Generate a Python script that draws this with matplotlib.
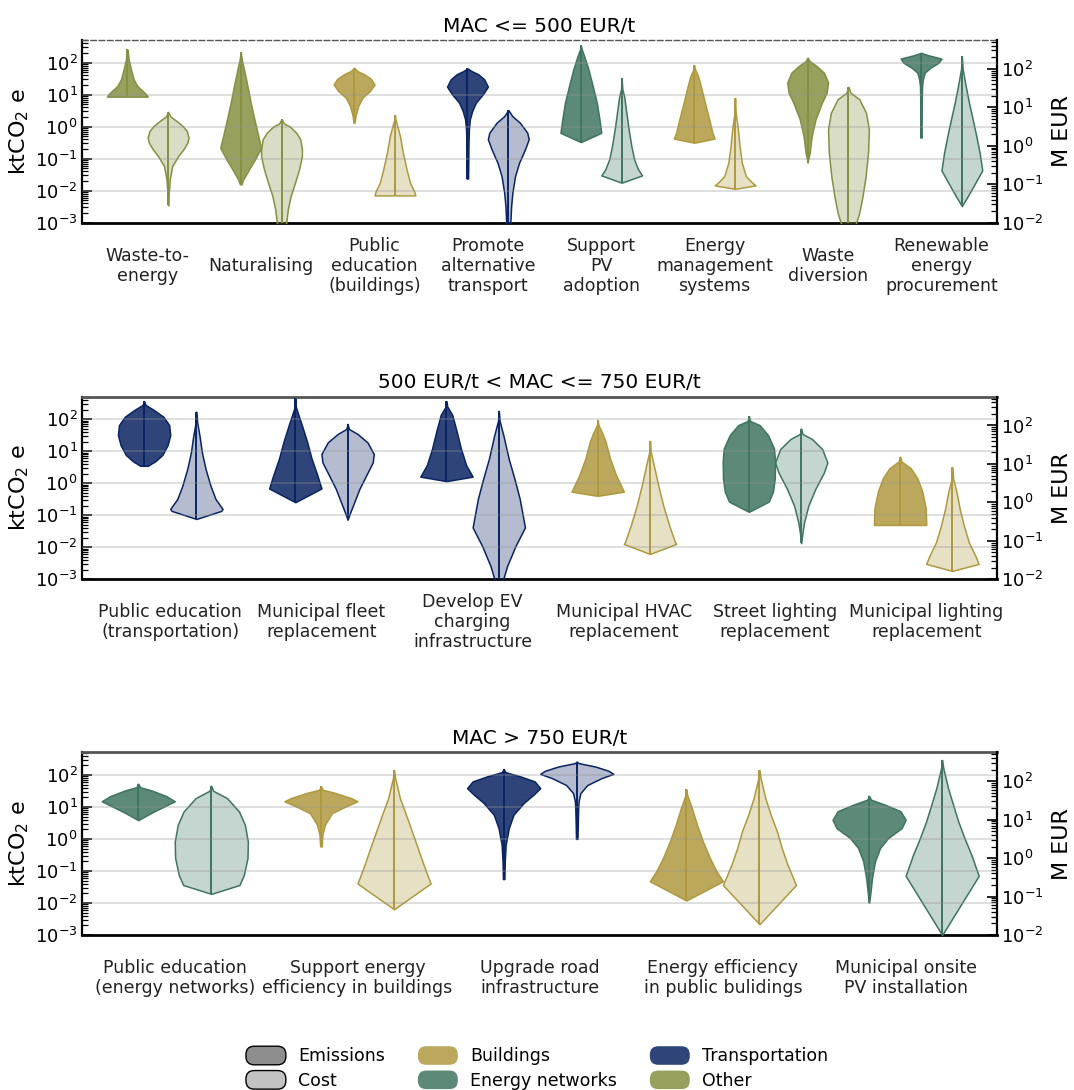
# Violins of emission reduction and cost per mitigation action, split by MAC band

import numpy as np
import matplotlib
matplotlib.use('Agg')
import matplotlib.pyplot as plt
from matplotlib.colors import to_rgba
from matplotlib.lines import Line2D
from matplotlib.patches import Patch, FancyBboxPatch
from matplotlib.legend_handler import HandlerPatch
from matplotlib.ticker import LogLocator

plt.rcParams['font.family'] = ['DejaVu Sans']
plt.rcParams['mathtext.fontset'] = 'dejavusans'

sector_colors = {'Buildings': '#AF993F', 'Energy networks': '#3F7460',
                 'Transportation': '#0A2463', 'Other': '#868F42'}

# ---- panel 1: MAC <= 500 EUR/t
# profiles: log10 of value along the violin (bottom -> top) and relative width
p1_labels = ['Waste-to-\nenergy', 'Naturalising', 'Public\neducation\n(buildings)',
             'Promote\nalternative\ntransport', 'Support\nPV\nadoption',
             'Energy\nmanagement\nsystems', 'Waste\ndiversion',
             'Renewable\nenergy\nprocurement']
p1_sectors = ['Other', 'Other', 'Buildings', 'Transportation', 'Energy networks',
              'Buildings', 'Other', 'Energy networks']
p1_em_vals = [
    [0.94, 1.0, 1.12, 1.27, 1.48, 1.79, 2.1, 2.37, 2.42],
    [-1.8, -1.65, -1.33, -1.02, -0.66, -0.29, 0.23, 0.75, 1.27, 1.79, 2.1, 2.33],
    [0.13, 0.33, 0.65, 0.91, 1.12, 1.32, 1.5, 1.64, 1.74, 1.84],
    [-1.62, -1.12, -0.5, -0.08, 0.23, 0.49, 0.75, 1.01, 1.25, 1.48, 1.64, 1.74, 1.82],
    [-0.48, -0.34, -0.19, 0.23, 0.75, 1.27, 1.79, 2.21, 2.42, 2.54],
    [-0.5, -0.37, -0.19, 0.23, 0.75, 1.27, 1.58, 1.79, 1.92],
    [-1.12, -0.81, -0.29, 0.23, 0.75, 1.06, 1.38, 1.69, 1.9, 2.05, 2.16],
    [-0.34, 0.23, 0.75, 1.27, 1.48, 1.69, 1.84, 2.0, 2.13, 2.23, 2.31],
]
p1_em_dens = [
    [1.0, 0.94, 0.75, 0.49, 0.31, 0.18, 0.066, 0.02, 0],
    [0.04, 0.12, 0.41, 0.70, 1.0, 0.86, 0.67, 0.49, 0.33, 0.16, 0.05, 0],
    [0.03, 0.066, 0.2, 0.41, 0.78, 1.0, 0.82, 0.49, 0.16, 0],
    [0.03, 0.04, 0.05, 0.07, 0.115, 0.23, 0.41, 0.75, 1.0, 0.82, 0.53, 0.2, 0],
    [0, 0.49, 1.0, 0.91, 0.78, 0.58, 0.37, 0.16, 0.04, 0],
    [0, 1.0, 0.89, 0.73, 0.52, 0.32, 0.19, 0.04, 0],
    [0, 0.1, 0.2, 0.385, 0.7, 0.93, 1.0, 0.8, 0.43, 0.1, 0],
    [0.03, 0.03, 0.035, 0.05, 0.09, 0.18, 0.45, 0.86, 1.0, 0.37, 0],
]
p1_cost_vals = [
    [-1.55, -1.22, -0.87, -0.53, -0.27, -0.09, 0.08, 0.21, 0.38, 0.51, 0.64, 0.76, 0.88],
    [-2.4, -2.0, -1.65, -1.3, -0.96, -0.61, -0.27, -0.09, 0.17, 0.34, 0.5, 0.58, 0.69],
    [-1.29, -1.18, -0.96, -0.61, -0.18, 0.25, 0.51, 0.69, 0.8],
    [-2.35, -2.0, -1.57, -1.22, -0.79, -0.44, -0.09, 0.17, 0.34, 0.6, 0.77, 0.93],
    [-0.96, -0.77, -0.61, -0.35, -0.01, 0.43, 0.86, 1.29, 1.47, 1.75],
    [-1.12, -1.03, -0.96, -0.79, -0.44, -0.01, 0.43, 0.86, 1.24],
    [-2.3, -2.0, -1.74, -1.31, -0.79, -0.18, 0.43, 0.86, 1.21, 1.38, 1.53],
    [-1.57, -1.31, -1.05, -0.64, -0.18, 0.25, 0.69, 1.12, 1.55, 1.99, 2.33],
]
p1_cost_dens = [
    [0, 0.033, 0.082, 0.197, 0.49, 0.754, 0.943, 1.0, 0.918, 0.721, 0.426, 0.115, 0],
    [0.15, 0.23, 0.31, 0.45, 0.66, 0.86, 1.0, 1.0, 0.92, 0.72, 0.41, 0.12, 0],
    [1.0, 0.94, 0.74, 0.57, 0.39, 0.25, 0.12, 0.025, 0],
    [0.066, 0.1, 0.14, 0.2, 0.33, 0.53, 0.82, 1.0, 0.93, 0.57, 0.2, 0],
    [0, 1.0, 0.8, 0.61, 0.475, 0.34, 0.23, 0.12, 0.03, 0],
    [0, 1.0, 0.84, 0.53, 0.33, 0.22, 0.14, 0.03, 0],
    [0.25, 0.38, 0.53, 0.69, 0.84, 0.96, 1.0, 0.86, 0.53, 0.1, 0],
    [0, 0.29, 0.57, 1.0, 0.87, 0.71, 0.53, 0.35, 0.19, 0.04, 0],
]

# ---- panel 2: 500 EUR/t < MAC <= 750 EUR/t
p2_labels = ['Public education\n(transportation)', 'Municipal fleet\nreplacement',
             'Develop EV\ncharging\ninfrastructure', 'Municipal HVAC\nreplacement',
             'Street lighting\nreplacement', 'Municipal lighting\nreplacement']
p2_sectors = ['Transportation', 'Transportation', 'Transportation', 'Buildings',
              'Energy networks', 'Buildings']
p2_em_vals = [
    [0.55, 0.63, 0.68, 0.89, 1.2, 1.51, 1.82, 2.08, 2.29, 2.45, 2.57],
    [-0.59, -0.16, 0.26, 0.78, 1.3, 1.82, 2.24, 2.4, 2.66],
    [0.07, 0.21, 0.57, 1.09, 1.62, 2.14, 2.4, 2.57],
    [-0.39, -0.26, 0.26, 0.78, 1.3, 1.56, 1.82, 1.98],
    [-0.89, -0.57, -0.26, 0.16, 0.68, 1.09, 1.51, 1.82, 1.95, 2.1],
    [-1.3, -0.78, -0.26, 0.16, 0.47, 0.68, 0.83],
]
p2_em_dens = [
    [0.15, 0.3, 0.41, 0.7, 0.9, 1.0, 0.96, 0.74, 0.38, 0.06, 0],
    [0, 1.0, 0.84, 0.62, 0.45, 0.25, 0.08, 0.02, 0],
    [0, 1.0, 0.75, 0.55, 0.39, 0.22, 0.03, 0],
    [0, 1.0, 0.7, 0.47, 0.3, 0.18, 0.03, 0],
    [0, 0.76, 0.92, 0.99, 1.0, 0.96, 0.73, 0.41, 0.05, 0],
    [1.0, 0.98, 0.85, 0.66, 0.41, 0.06, 0],
]
p2_cost_vals = [
    [-0.43, -0.22, -0.17, 0.09, 0.43, 0.87, 1.3, 1.73, 2.08, 2.36],
    [-0.45, -0.26, 0.0, 0.35, 0.69, 1.04, 1.26, 1.56, 1.78, 1.91, 2.04],
    [-2.3, -1.99, -1.65, -1.13, -0.65, 0.09, 0.61, 1.13, 1.73, 2.12, 2.38],
    [-1.34, -1.08, -1.04, -0.61, -0.09, 0.43, 0.95, 1.34, 1.6],
    [-1.06, -0.78, -0.52, -0.09, 0.35, 0.78, 1.04, 1.39, 1.65, 1.78, 1.92],
    [-1.78, -1.6, -1.39, -1.04, -0.61, -0.17, 0.26, 0.61, 0.91],
]
p2_cost_dens = [
    [0, 0.95, 1.0, 0.73, 0.54, 0.35, 0.21, 0.12, 0.03, 0],
    [0, 0.1, 0.25, 0.45, 0.7, 0.96, 1.0, 0.76, 0.38, 0.05, 0],
    [0.05, 0.17, 0.32, 0.64, 1.0, 0.8, 0.6, 0.38, 0.18, 0.03, 0],
    [0, 1.0, 0.96, 0.74, 0.51, 0.32, 0.15, 0.02, 0],
    [0, 0.05, 0.11, 0.27, 0.54, 0.87, 1.0, 0.8, 0.41, 0.05, 0],
    [0, 1.0, 0.88, 0.63, 0.44, 0.28, 0.16, 0.03, 0],
]

# ---- panel 3: MAC > 750 EUR/t
p3_labels = ['Public education\n(energy networks)', 'Support energy\nefficiency in buildings',
             'Upgrade road\ninfrastructure', 'Energy efficiency\nin public bulidings',
             'Municipal onsite\nPV installation']
p3_sectors = ['Energy networks', 'Buildings', 'Transportation', 'Buildings',
              'Energy networks']
p3_em_vals = [
    [0.59, 0.82, 1.03, 1.18, 1.34, 1.52, 1.62, 1.73],
    [-0.23, 0.14, 0.45, 0.81, 1.02, 1.18, 1.28, 1.44, 1.54, 1.65],
    [-1.25, -0.7, -0.18, 0.34, 0.76, 1.13, 1.39, 1.59, 1.8, 1.96, 2.09, 2.19],
    [-1.92, -1.32, -1.0, -0.59, -0.07, 0.45, 0.98, 1.39, 1.55],
    [-1.99, -1.74, -1.22, -0.7, -0.28, 0.03, 0.34, 0.6, 0.87, 1.07, 1.23, 1.35],
]
p3_em_dens = [
    [0, 0.36, 0.73, 1.0, 0.77, 0.36, 0.05, 0],
    [0.02, 0.04, 0.11, 0.3, 0.68, 1.0, 0.82, 0.39, 0.05, 0],
    [0.02, 0.03, 0.055, 0.14, 0.27, 0.55, 0.82, 1.0, 0.85, 0.45, 0.05, 0],
    [0, 1.0, 0.82, 0.64, 0.45, 0.29, 0.145, 0.02, 0],
    [0, 0.03, 0.08, 0.16, 0.3, 0.52, 0.89, 1.0, 0.86, 0.44, 0.05, 0],
]
p3_cost_vals = [
    [-0.93, -0.7, -0.44, 0.0, 0.43, 0.86, 1.21, 1.56, 1.75, 1.88],
    [-1.33, -0.66, -0.18, 0.26, 0.69, 1.12, 1.56, 2.08, 2.29],
    [0.5, 0.95, 1.3, 1.47, 1.69, 1.9, 2.08, 2.19, 2.27, 2.38, 2.47, 2.51],
    [-1.72, -0.7, -0.18, 0.26, 0.69, 1.12, 1.56, 2.08, 2.29],
    [-2.0, -0.46, 0.08, 0.52, 0.95, 1.38, 1.82, 2.34, 2.55],
]
p3_cost_dens = [
    [0, 0.77, 0.89, 0.99, 1.0, 0.92, 0.76, 0.43, 0.05, 0],
    [0, 1.0, 0.81, 0.65, 0.49, 0.33, 0.16, 0.03, 0],
    [0.02, 0.03, 0.04, 0.05, 0.1, 0.29, 0.68, 1.0, 0.87, 0.51, 0.05, 0],
    [0, 1.0, 0.77, 0.61, 0.48, 0.31, 0.16, 0.03, 0],
    [0, 1.0, 0.8, 0.61, 0.44, 0.3, 0.16, 0.03, 0],
]

panels = [
    dict(title='MAC <= 500 EUR/t', labels=p1_labels, sectors=p1_sectors,
         em_v=p1_em_vals, em_d=p1_em_dens, co_v=p1_cost_vals, co_d=p1_cost_dens,
         xlim=(-0.58, 7.49), off=0.18, bottom=0.7957, dashed_top=True),
    dict(title='500 EUR/t < MAC <= 750 EUR/t', labels=p2_labels, sectors=p2_sectors,
         em_v=p2_em_vals, em_d=p2_em_dens, co_v=p2_cost_vals, co_d=p2_cost_dens,
         xlim=(-0.584, 5.468), off=0.173, bottom=0.4685, dashed_top=False),
    dict(title='MAC > 750 EUR/t', labels=p3_labels, sectors=p3_sectors,
         em_v=p3_em_vals, em_d=p3_em_dens, co_v=p3_cost_vals, co_d=p3_cost_dens,
         xlim=(-0.508, 4.5), off=0.2, bottom=0.1422, dashed_top=False),
]


def draw_violins(axis, positions, vals, dens, colors, alpha, width):
    stats = []
    for v, d in zip(vals, dens):
        v = np.asarray(v, dtype=float)
        stats.append(dict(coords=10.0 ** v, vals=np.asarray(d, dtype=float),
                          mean=10.0 ** np.median(v), median=10.0 ** np.median(v),
                          min=10.0 ** v.min(), max=10.0 ** v.max()))
    parts = axis.violin(stats, positions=positions, widths=width,
                        showmeans=False, showextrema=False, showmedians=False)
    for body, c in zip(parts['bodies'], colors):
        body.set_alpha(None)
        body.set_facecolor(to_rgba(c, alpha))
        body.set_edgecolor(c)
        body.set_linewidth(1.1)
        body.set_zorder(2)
    axis.vlines(positions, [s['min'] for s in stats], [s['max'] for s in stats],
                colors=colors, lw=1.4, zorder=3)


fig = plt.figure(figsize=(10.74, 10.9), dpi=100)

for p in panels:
    n = len(p['labels'])
    cats = np.arange(n)
    colors = [sector_colors[s] for s in p['sectors']]

    ax = fig.add_axes([0.0763, p['bottom'], 0.852, 0.1676])
    ax2 = ax.twinx()
    ax.set_yscale('log')
    ax2.set_yscale('log')

    draw_violins(ax, cats - p['off'], p['em_v'], p['em_d'], colors, 0.85, 2 * p['off'])
    draw_violins(ax2, cats + p['off'], p['co_v'], p['co_d'], colors, 0.3, 2 * p['off'])

    # light grid on top of everything, following the left axis decades
    for k in range(-2, 3):
        ax2.add_artist(Line2D([0, 1], [10.0 ** k] * 2, transform=ax.get_yaxis_transform(),
                              color='#949494', alpha=0.33, lw=1.3, zorder=5))

    ax.set_xlim(*p['xlim'])
    ax.set_ylim(1e-3, 10 ** 2.71)
    ax2.set_ylim(1e-2, 10 ** 2.75)

    ax.set_xticks(cats, p['labels'], va='center', fontsize=12.5, color='#222222',
                  linespacing=1.15)
    ax.tick_params(axis='x', length=0, pad=31)
    for a in (ax, ax2):
        a.yaxis.set_major_locator(LogLocator(base=10, numticks=15))
        a.yaxis.set_minor_locator(LogLocator(base=10, subs=np.arange(2, 10), numticks=15))
        a.tick_params(axis='y', which='major', direction='in', length=7, width=1.2,
                      labelsize=13, pad=3)
        a.tick_params(axis='y', which='minor', direction='in', length=4, width=0.9)
    ax.tick_params(axis='y', which='both', right=False)

    ax.set_ylabel('ktCO$_2$ e', fontsize=16, labelpad=3)
    ax2.set_ylabel('M EUR', fontsize=16, labelpad=6)
    ax.set_title(p['title'], fontsize=14.5, pad=6)

    for s in ('left', 'bottom'):
        ax.spines[s].set_linewidth(1.6)
        ax.spines[s].set_color('black')
    ax.spines['bottom'].set_linewidth(2.0)
    ax.spines['right'].set_visible(False)
    if p['dashed_top']:
        ax.spines['top'].set_linestyle((0, (4, 2)))
        ax.spines['top'].set_color('#555555')
        ax.spines['top'].set_linewidth(1.0)
    else:
        ax.spines['top'].set_color('#555555')
        ax.spines['top'].set_linewidth(2.0)
    for s in ('left', 'bottom', 'top'):
        ax2.spines[s].set_visible(False)
    ax2.spines['right'].set_linewidth(1.6)


def round_patch(legend, orig_handle, xdescent, ydescent, width, height, fontsize):
    return FancyBboxPatch((-xdescent, -ydescent), width, height,
                          boxstyle='round,pad=0,rounding_size=%.2f' % (height * 0.45))


handles = [Patch(facecolor='#8E8E8E', edgecolor='black', lw=1.0),
           Patch(facecolor='#C2C2C2', edgecolor='black', lw=1.0)]
names = ['Emissions', 'Cost']
for sector in ['Buildings', 'Energy networks', 'Transportation', 'Other']:
    handles.append(Patch(facecolor=to_rgba(sector_colors[sector], 0.85), edgecolor='none'))
    names.append(sector)

fig.legend(handles, names, loc='upper center', bbox_to_anchor=(0.5, 0.0545), ncol=3,
           frameon=False, fontsize=12.5, handlelength=2.3, handleheight=1.27,
           handletextpad=0.7, columnspacing=1.9, labelspacing=0.3,
           handler_map={Patch: HandlerPatch(patch_func=round_patch)})

fig.savefig('out.png', dpi=100)
